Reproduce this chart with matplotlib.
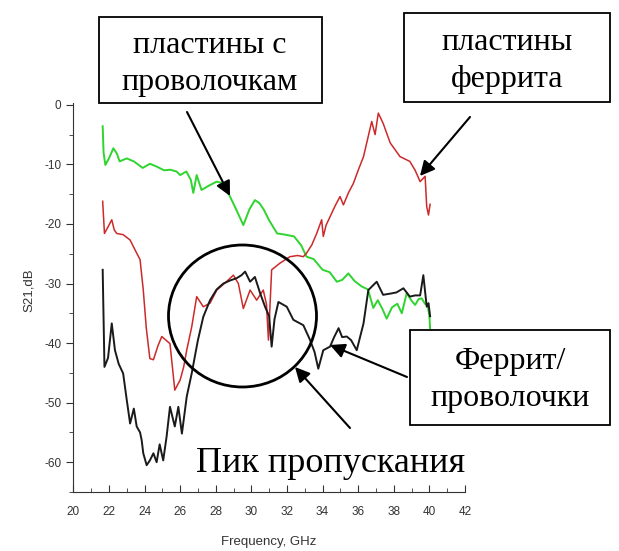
import matplotlib
matplotlib.use("Agg")
import matplotlib.pyplot as plt
from matplotlib.patches import Rectangle, Ellipse, FancyArrowPatch

# --- data ---
green_x = [21.65, 21.7, 21.8, 22.0, 22.25, 22.45, 22.6, 23.0, 23.4, 23.9, 24.3, 24.7, 25.1, 25.45,
           25.8, 26.0, 26.35, 26.6, 26.74, 26.93, 27.2, 27.6, 28.05, 28.45, 28.8, 29.2, 29.55, 29.9,
           30.2, 30.45, 30.7, 31.0, 31.45, 31.9, 32.4, 32.8, 33.1, 33.5, 34.0, 34.4, 34.8, 35.1,
           35.45, 35.8, 36.2, 36.55, 36.85, 37.1, 37.35, 37.6, 37.9, 38.2, 38.45, 38.73, 39.0, 39.2,
           39.4, 39.57, 39.75, 39.9, 40.0, 40.04]
green_y = [-3.6, -8.0, -10.1, -9.0, -7.3, -8.2, -9.5, -9.0, -9.5, -10.6, -9.9, -10.4, -11.0, -10.9,
           -11.2, -11.8, -11.2, -12.6, -14.8, -11.8, -14.3, -13.6, -12.9, -13.2, -15.4, -17.9, -20.2, -17.5,
           -16.0, -16.5, -17.6, -19.4, -21.6, -21.8, -22.1, -23.6, -25.5, -25.9, -27.7, -28.1, -29.7, -29.4,
           -28.3, -29.6, -30.5, -31.0, -34.1, -32.8, -34.2, -35.9, -34.0, -33.4, -35.0, -31.6, -32.9, -33.6,
           -32.6, -32.5, -33.4, -33.6, -35.5, -37.5]

red_x = [21.65, 21.75, 21.95, 22.16, 22.3, 22.44, 22.8, 23.19, 23.56, 23.75, 23.93, 24.1, 24.3, 24.5,
         24.75, 24.97, 25.2, 25.43, 25.7, 26.0, 26.2, 26.37, 26.65, 26.93, 27.3, 27.68, 28.06, 28.6,
         28.99, 29.27, 29.55, 29.93, 30.3, 30.67, 30.85, 30.96, 31.14, 31.6, 32.17, 32.6, 32.92, 33.1,
         33.4, 33.67, 33.95, 34.04, 34.2, 34.42, 34.7, 34.98, 35.17, 35.45, 35.73, 36.0, 36.3, 36.55,
         36.76, 36.95, 37.13, 37.4, 37.8, 38.35, 38.9, 39.2, 39.48, 39.76, 39.85, 39.95, 40.04]
red_y = [-16.2, -21.6, -20.5, -19.3, -21.0, -21.6, -21.8, -22.7, -24.9, -26.0, -31.1, -37.5, -42.6, -42.8,
         -40.5, -38.9, -39.5, -40.1, -47.9, -46.2, -44.0, -41.2, -37.3, -32.2, -33.9, -33.3, -31.1, -29.7,
         -28.6, -30.0, -34.2, -31.1, -32.8, -31.1, -33.5, -39.5, -27.7, -26.6, -25.5, -25.3, -25.5, -24.9,
         -23.5, -21.6, -19.3, -22.1, -20.2, -18.8, -17.0, -15.4, -16.8, -14.8, -13.2, -11.0, -8.7, -5.5,
         -2.8, -5.0, -1.4, -3.1, -6.4, -8.7, -9.5, -11.0, -12.9, -12.0, -17.1, -18.5, -16.7]

black_x = [21.65, 21.75, 21.95, 22.16, 22.34, 22.55, 22.8, 23.0, 23.19, 23.4, 23.56, 23.75, 23.84, 23.93,
           24.12, 24.3, 24.5, 24.68, 24.85, 25.05, 25.24, 25.43, 25.7, 25.9, 26.1, 26.37, 26.65, 26.93,
           27.0, 27.3, 27.68, 28.05, 28.43, 28.8, 29.18, 29.45, 29.65, 29.93, 30.2, 30.49, 30.77, 31.0,
           31.14, 31.3, 31.52, 31.99, 32.36, 32.92, 33.3, 33.55, 33.76, 34.04, 34.42, 34.65, 34.9, 35.1,
           35.36, 35.6, 35.92, 36.3, 36.57, 37.04, 37.4, 37.8, 38.15, 38.54, 38.9, 39.2, 39.48, 39.66,
           39.85, 39.95, 40.04]
black_y = [-27.7, -44.0, -42.5, -36.7, -41.2, -43.5, -45.1, -49.5, -53.5, -51.0, -54.0, -55.0, -56.3, -58.5,
           -60.5, -59.7, -58.5, -60.0, -57.0, -59.7, -55.7, -50.7, -54.0, -50.7, -55.2, -49.0, -45.1, -40.6,
           -39.5, -35.6, -32.8, -31.0, -30.0, -29.5, -29.1, -28.6, -28.0, -29.7, -28.9, -31.6, -33.9, -35.5,
           -40.6, -36.0, -33.1, -33.9, -36.1, -37.0, -39.5, -41.5, -44.3, -41.2, -40.6, -39.0, -37.5, -39.0,
           -38.9, -39.5, -41.2, -36.7, -31.1, -29.7, -31.9, -31.7, -31.5, -30.8, -32.2, -32.0, -32.0, -28.6,
           -33.9, -33.3, -35.5]

x_ticks = list(range(20, 43, 2))
y_ticks = [-60, -50, -40, -30, -20, -10, 0]

W, H = 619, 551
plt.rcParams["axes.unicode_minus"] = False


def fp(x, y):
    # image pixel -> figure fraction
    return (x / W, 1 - y / H)


fig = plt.figure(figsize=(6.19, 5.51), dpi=100)
ax = fig.add_axes([73.3 / W, 1 - 492 / H, (465 - 73.3) / W, (492 - 103) / H])

ax.plot(green_x, green_y, color="#2fd42f", lw=1.4)
ax.plot(red_x, red_y, color="#cc2a2a", lw=1.1)
ax.plot(black_x, black_y, color="#1a1a1a", lw=1.4)

ax.set_xlim(20, 42)
ax.set_ylim(-65, 0.3)
ax.set_xticks(x_ticks)
ax.set_xticks(range(20, 43), minor=True)
ax.set_yticks(y_ticks)
ax.set_yticks(range(-65, 1, 5), minor=True)
for s in ["top", "right"]:
    ax.spines[s].set_visible(False)
for s in ["left", "bottom"]:
    ax.spines[s].set_color("#333333")
ax.tick_params(axis="x", which="both", direction="in", colors="#333333",
               labelsize=8.5, pad=10)
ax.tick_params(axis="x", which="major", length=5)
ax.tick_params(axis="x", which="minor", length=3)
ax.tick_params(axis="y", which="both", direction="out", colors="#333333", labelsize=8.5)
ax.tick_params(axis="y", which="major", length=5)
ax.tick_params(axis="y", which="minor", length=3)
for lab in ax.get_xticklabels() + ax.get_yticklabels():
    lab.set_fontfamily("Liberation Sans")
ax.set_xlabel("Frequency, GHz", fontsize=9.5, family="Liberation Sans", color="#333333")
ax.set_ylabel("S21,dB", fontsize=9.5, family="Liberation Sans", color="#333333")
ax.xaxis.set_label_coords(0.5, -0.112)
ax.yaxis.set_label_coords(-0.098, 0.52)

# --- annotations ---
serif = "Liberation Serif"
fs = 23

boxes = [(99, 17, 322, 103), (404, 13, 610, 102), (410, 330, 610, 425)]
for x0, y0, x1, y1 in boxes:
    fig.add_artist(Rectangle(fp(x0, y1), (x1 - x0) / W, (y1 - y0) / H,
                             transform=fig.transFigure, fill=True, facecolor="white",
                             edgecolor="black", lw=1.3))

fig.text(*fp(210, 64), "пластины с\nпроволочкам", ha="center", va="center",
         fontsize=fs, family=serif, linespacing=1.35)
fig.text(*fp(507, 61), "пластины\nферрита", ha="center", va="center",
         fontsize=fs, family=serif, linespacing=1.35)
fig.text(*fp(510, 380), "Феррит/\nпроволочки", ha="center", va="center",
         fontsize=fs, family=serif, linespacing=1.35)
fig.text(*fp(331, 464), "Пик пропускания", ha="center", va="center",
         fontsize=26, family=serif)

fig.add_artist(Ellipse(fp(242.5, 316), 148 / W, 142 / H, transform=fig.transFigure,
                       fill=False, edgecolor="black", lw=2))

arrows = [((187, 112), (230, 196)), ((470, 117), (420, 176)),
          ((407, 377), (330, 345)), ((350, 428), (295, 367))]
for (xa, ya), (xb, yb) in arrows:
    fig.add_artist(FancyArrowPatch(fp(xa, ya), fp(xb, yb), transform=fig.transFigure,
                                   arrowstyle="-|>", mutation_scale=22, lw=1.5,
                                   color="black", shrinkA=0, shrinkB=0))

fig.savefig("out.png", dpi=100)
